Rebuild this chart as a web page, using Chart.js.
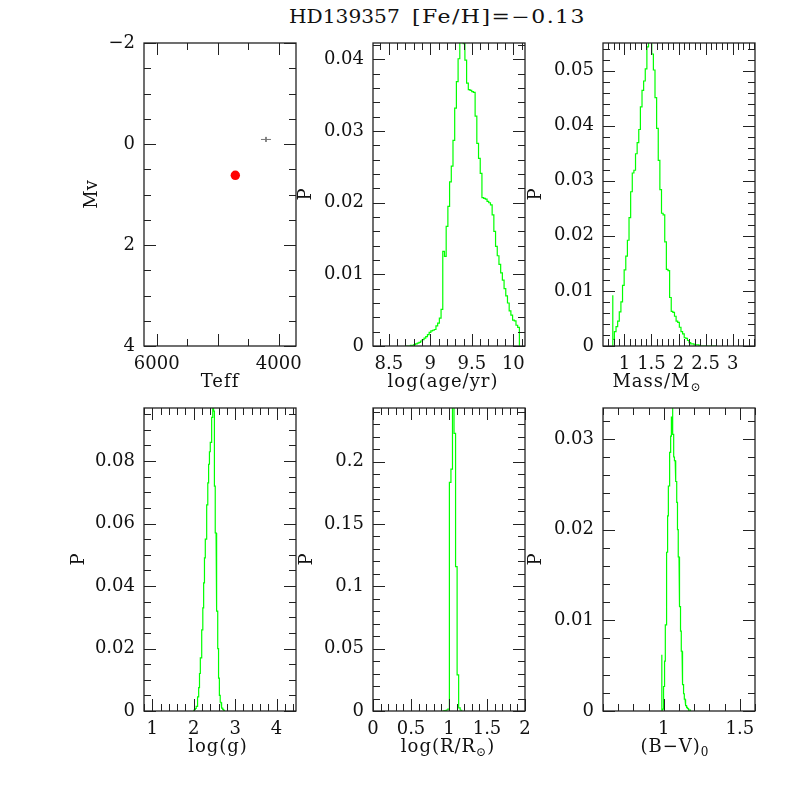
<!DOCTYPE html>
<html>
<head>
<meta charset="utf-8">
<title>HD139357</title>
<script src="https://cdn.jsdelivr.net/npm/chart.js@4.4.1/dist/chart.umd.min.js"></script>
<style>
    body { margin: 0; background: #fff; }
    #page { position: relative; width: 797px; height: 797px; overflow: hidden; background: #fff; }
    #page canvas { position: absolute; }
    .title { position: absolute; top: 8px; font: 18px/1 "DejaVu Serif", serif; color: #111; white-space: pre; transform-origin: 0 0; }
    #star { left: 289px; transform: scaleX(1.12); }
    #feh { left: 412px; letter-spacing: 1.2px; transform: scaleX(1.22); }
</style>
</head>
<body>
<div id="page"><div class="title" id="star">HD139357</div><div class="title" id="feh">[Fe/H]=−0.13</div></div>
<script>
// --- values ---

// HR diagram
const starTeff = [4711];
const starMv = [0.62];
const obsTeff = [4208];
const obsMv = [-0.09];
const obsTeffErr = [82];
const obsMvErr = [0.05];
const teffTicks = [6000, 4000];
const mvTicks = [-2, 0, 2, 4];

// log(age/yr)
const ageStart = 8.699;
const ageBin = 0.0205;
const ageProb = [0, 0, 0, 0.0001, 0.0001, 0.0002, 0.0003, 0.0004, 0.0005, 0.0007, 0.0009,
    0.0011, 0.0013, 0.0016, 0.0019, 0.0021, 0.0022, 0.0023, 0.0028, 0.0032, 0.0039, 0.0051,
    0.0132, 0.0125, 0.0167, 0.0195, 0.0229, 0.0251, 0.0287, 0.0332, 0.0369, 0.0401, 0.0426,
    0.0424, 0.0422, 0.0399, 0.0367, 0.0358, 0.0357, 0.0355, 0.0354, 0.0321, 0.0283, 0.0262,
    0.0241, 0.0207, 0.0206, 0.0205, 0.0202, 0.0200, 0.0197, 0.0183, 0.0160, 0.0139, 0.0126,
    0.0114, 0.0102, 0.0092, 0.0080, 0.0070, 0.0060, 0.0049, 0.0043, 0.0036, 0.0035, 0.0029, 0.0026];
const ageTicks = [8.5, 9, 9.5, 10];
const ageProbTicks = [0, 0.01, 0.02, 0.03, 0.04];

// Mass
const massStart = 0.785;
const massBin = 0.03;
const massSpike = [0.785, 0.0092];
const massProb = [0.0012, 0.0026, 0.0035, 0.0045, 0.0062, 0.0080, 0.0110, 0.0138, 0.0163, 0.0192,
    0.0233, 0.0280, 0.0314, 0.0319, 0.0349, 0.0369, 0.0393, 0.0434, 0.0464, 0.0481, 0.0503, 0.0543,
    0.0565, 0.0558, 0.0530, 0.0501, 0.0451, 0.0395, 0.0337, 0.0284, 0.0241, 0.0238, 0.0189, 0.0139,
    0.0137, 0.0088, 0.0063, 0.0061, 0.0054, 0.0045, 0.0043, 0.0034, 0.0026, 0.0022, 0.0015, 0.0014,
    0.0010, 0.0006, 0.0004, 0.0004, 0.0002, 0.0002, 0.0002, 0.0001, 0, 0, 0, 0, 0, 0, 0, 0, 0, 0];
const massTicks = [1, 1.5, 2, 2.5, 3];
const massProbTicks = [0, 0.01, 0.02, 0.03, 0.04, 0.05];

// log(g)
const loggStart = 2.0;
const loggBin = 0.02;
const loggProb = [0.0002, 0.0005, 0.0008, 0.0015, 0.0025, 0.0045, 0.0075, 0.012, 0.017, 0.021,
    0.026, 0.033, 0.041, 0.049, 0.055, 0.061, 0.066, 0.073, 0.079, 0.083, 0.086, 0.090, 0.094,
    0.099, 0.096, 0.072, 0.057, 0.045, 0.032, 0.020, 0.0105, 0.005, 0.0028, 0.0015, 0.0009,
    0.0005, 0.0002, 0];
const loggTicks = [1, 2, 3, 4];
const loggProbTicks = [0, 0.02, 0.04, 0.06, 0.08];

// log(R/Rsun)
const radStart = 0.924;
const radBin = 0.0203;
const radProb = [0.0002, 0.0004, 0.0008, 0.0015, 0.1834, 0.194, 0.26, 0.2227, 0.1158, 0.0289, 0.0025, 0.0006];
const radTicks = [0, 0.5, 1, 1.5, 2];
const radProbTicks = [0, 0.05, 0.1, 0.15, 0.2];

// (B-V)0
const bvStart = 0.99;
const bvBin = 0.005;
const bvSpike = [0.987, 0.0062];
const bvProb = [0.0002, 0.0010, 0.0027, 0.0055, 0.0095, 0.0130, 0.0175, 0.0215, 0.0248, 0.0268,
    0.0285, 0.0303, 0.0324, 0.0338, 0.0305, 0.0280, 0.0276, 0.0268, 0.0253, 0.0230, 0.0200, 0.0170,
    0.0147, 0.0115, 0.0088, 0.0066, 0.0046, 0.0029, 0.0019, 0.0013, 0.0009, 0.0006, 0.0004, 0.0003,
    0.0002, 0.0001, 0.0001, 0, 0];
const bvTicks = [1, 1.5];
const bvProbTicks = [0, 0.01, 0.02, 0.03];

// --- layout ---
const colLeft = [144, 373, 603];
const rowTop = [43, 408];
const plotW = 152, plotH = 303;
const padL = 80, padT = 14, padR = 14, padB = 52;

const fontFamily = '"DejaVu Serif", serif';
const tickFont = { family: fontFamily, size: 18 };
const titleFont = '18px ' + fontFamily;
const subFont = '12px ' + fontFamily;
const green = '#00ff00';

let fmt = function(v) {
    return String(v).replace('-', '\u2212');
};

// step outline of a histogram, bin edges from start + i * width
let histogram = function(start, width, values, spike) {
    const pts = [];
    if (spike) {
        pts.push({ x: spike[0], y: spike[1] });
        pts.push({ x: spike[0], y: 0 });
    }
    pts.push({ x: start, y: 0 });
    values.forEach((v, i) => {
        pts.push({ x: start + i * width, y: v });
        pts.push({ x: start + (i + 1) * width, y: v });
    });
    pts.push({ x: start + values.length * width, y: 0 });
    return pts;
};

let histSet = function(pts) {
    return {
        data: pts,
        borderColor: green,
        borderWidth: 1.2,
        pointRadius: 0,
        fill: false,
        tension: 0
    };
};

let hrSets = function() {
    return [
        {
            data: starTeff.map((t, i) => ({ x: t, y: starMv[i] })),
            showLine: false,
            pointRadius: 4.7,
            pointBackgroundColor: '#ff0000',
            pointBorderWidth: 0
        },
        {
            data: [{ x: obsTeff[0] - obsTeffErr[0], y: obsMv[0] }, { x: obsTeff[0] + obsTeffErr[0], y: obsMv[0] }],
            borderColor: '#777', borderWidth: 1, pointRadius: 0
        },
        {
            data: [{ x: obsTeff[0], y: obsMv[0] - obsMvErr[0] }, { x: obsTeff[0], y: obsMv[0] + obsMvErr[0] }],
            borderColor: '#777', borderWidth: 1, pointRadius: 0
        }
    ];
};

let marks = function(min, max, minor, major) {
    const out = [];
    for (let i = Math.ceil(min / minor - 1e-9); i * minor <= max + 1e-9; i++) {
        const v = i * minor;
        out.push([v, Math.abs(v / major - Math.round(v / major)) < 1e-6]);
    }
    return out;
};

// frame with inward ticks on all four sides, plus axis titles
const frameTicks = {
    id: 'frameTicks',
    afterDraw(chart, args, o) {
        const ctx = chart.ctx, a = chart.chartArea;
        const x = chart.scales.x, y = chart.scales.y;
        ctx.save();
        ctx.strokeStyle = '#222';
        ctx.lineWidth = 1;
        ctx.beginPath();
        marks(x.min, x.max, o.xMinor, o.xMajor).forEach(([v, big]) => {
            const px = Math.round(x.getPixelForValue(v)) + 0.5;
            const len = big ? 12 : 7;
            ctx.moveTo(px, a.bottom); ctx.lineTo(px, a.bottom - len);
            ctx.moveTo(px, a.top); ctx.lineTo(px, a.top + len);
        });
        marks(y.min, y.max, o.yMinor, o.yMajor).forEach(([v, big]) => {
            const py = Math.round(y.getPixelForValue(v)) + 0.5;
            const len = big ? 12 : 7;
            ctx.moveTo(a.left, py); ctx.lineTo(a.left + len, py);
            ctx.moveTo(a.right, py); ctx.lineTo(a.right - len, py);
        });
        ctx.stroke();
        ctx.lineWidth = 1.3;
        ctx.strokeRect(a.left, a.top, a.right - a.left, a.bottom - a.top);

        ctx.fillStyle = '#111';
        ctx.textBaseline = 'middle';
        ctx.textAlign = 'left';
        ctx.letterSpacing = '1px';
        let w = 0;
        o.xTitle.forEach(([t, sub]) => {
            ctx.font = sub ? subFont : titleFont;
            w += ctx.measureText(t).width;
        });
        let tx = (a.left + a.right) / 2 + o.xShift - w / 2;
        const ty = a.bottom + 36;
        o.xTitle.forEach(([t, sub]) => {
            ctx.font = sub ? subFont : titleFont;
            ctx.fillText(t, tx, sub ? ty + 6 : ty);
            tx += ctx.measureText(t).width;
        });

        ctx.letterSpacing = '0px';
        ctx.font = titleFont;
        ctx.textAlign = 'center';
        ctx.translate(a.left - o.yGap, (a.top + a.bottom) / 2);
        ctx.rotate(-Math.PI / 2);
        ctx.fillText(o.yTitle, 0, 0);
        ctx.restore();
    }
};

let axis = function(min, max, reverse, labels, padding, fit) {
    return {
        type: 'linear',
        min: min,
        max: max,
        reverse: reverse,
        grid: { display: false, drawTicks: false },
        border: { display: false },
        afterBuildTicks: (s) => { s.ticks = labels.map(v => ({ value: v })); },
        ticks: {
            font: tickFont,
            color: '#111',
            padding: padding,
            autoSkip: false,
            maxRotation: 0,
            minRotation: 0,
            callback: (v) => fmt(v)
        },
        afterFit: fit
    };
};

const panels = [
    { col: 0, row: 0, x: [3716, 6208, true], y: [-2, 4, true], xl: teffTicks, yl: mvTicks,
      marks: { xMajor: 1000, xMinor: 500, yMajor: 2, yMinor: 0.5 },
      xTitle: [['Teff']], xShift: 0, yTitle: 'Mv', yGap: 52, sets: hrSets() },
    { col: 1, row: 0, x: [8.31, 10.14, false], y: [0, 0.0423, false], xl: ageTicks, yl: ageProbTicks,
      marks: { xMajor: 0.5, xMinor: 0.1, yMajor: 0.01, yMinor: 0.002 },
      xTitle: [['log(age/yr)']], xShift: -6, yTitle: 'P', yGap: 67,
      sets: [histSet(histogram(ageStart, ageBin, ageProb))] },
    { col: 2, row: 0, x: [0.604, 3.413, false], y: [0, 0.055, false], xl: massTicks, yl: massProbTicks,
      marks: { xMajor: 0.5, xMinor: 0.1, yMajor: 0.01, yMinor: 0.002 },
      xTitle: [['Mass/M'], ['\u2299', true]], xShift: -22, yTitle: 'P', yGap: 67,
      sets: [histSet(histogram(massStart, massBin, massProb, massSpike))] },
    { col: 0, row: 1, x: [0.8, 4.47, false], y: [0, 0.097, false], xl: loggTicks, yl: loggProbTicks,
      marks: { xMajor: 1, xMinor: 0.2, yMajor: 0.02, yMinor: 0.005 },
      xTitle: [['log(g)']], xShift: -2, yTitle: 'P', yGap: 65,
      sets: [histSet(histogram(loggStart, loggBin, loggProb))] },
    { col: 1, row: 1, x: [0, 2, false], y: [0, 0.243, false], xl: radTicks, yl: radProbTicks,
      marks: { xMajor: 0.5, xMinor: 0.1, yMajor: 0.05, yMinor: 0.01 },
      xTitle: [['log(R/R'], ['\u2299', true], [')']], xShift: -1, yTitle: 'P', yGap: 66,
      sets: [histSet(histogram(radStart, radBin, radProb))] },
    { col: 2, row: 1, x: [0.6, 1.6, false], y: [0, 0.0334, false], xl: bvTicks, yl: bvProbTicks,
      marks: { xMajor: 0.5, xMinor: 0.1, yMajor: 0.01, yMinor: 0.002 },
      xTitle: [['(B\u2212V)'], ['0', true]], xShift: -4, yTitle: 'P', yGap: 67,
      sets: [histSet(histogram(bvStart, bvBin, bvProb, bvSpike))] }
];

let buildPanel = function(p) {
    const page = document.getElementById('page');
    const canvas = document.createElement('canvas');
    const w = plotW + padL + padR, h = plotH + padT + padB;
    canvas.setAttribute('width', w);
    canvas.setAttribute('height', h);
    canvas.style.width = w + 'px';
    canvas.style.height = h + 'px';
    canvas.style.left = (colLeft[p.col] - padL) + 'px';
    canvas.style.top = (rowTop[p.row] - padT) + 'px';
    page.appendChild(canvas);

    new Chart(canvas.getContext('2d'), {
        type: 'line',
        data: { datasets: p.sets },
        options: {
            responsive: false,
            animation: false,
            devicePixelRatio: 1,
            events: [],
            layout: { padding: { top: padT, right: padR, left: 0, bottom: 0 } },
            plugins: {
                legend: { display: false },
                tooltip: { enabled: false },
                frameTicks: Object.assign({ xTitle: p.xTitle, xShift: p.xShift, yTitle: p.yTitle, yGap: p.yGap }, p.marks)
            },
            scales: {
                x: axis(p.x[0], p.x[1], p.x[2], p.xl, 8, (s) => {
                    s.height = padB; s.paddingLeft = 0; s.paddingRight = 0;
                }),
                y: axis(p.y[0], p.y[1], p.y[2], p.yl, 9, (s) => {
                    s.width = padL; s.paddingTop = 0; s.paddingBottom = 0;
                })
            }
        },
        plugins: [frameTicks]
    });
};

panels.forEach(buildPanel);
</script>
</body>
</html>
